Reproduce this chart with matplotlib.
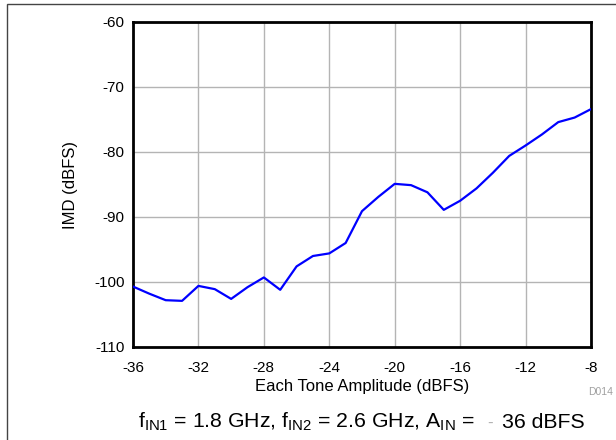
import matplotlib
matplotlib.use("Agg")
from matplotlib import pyplot as plt
from matplotlib.patches import Rectangle

plt.rcParams["font.family"] = ["Liberation Sans", "DejaVu Sans"]

# IMD vs. tone amplitude, 1 dB steps
amplitude = [-36, -35, -34, -33, -32, -31, -30, -29, -28, -27, -26, -25, -24, -23, -22,
             -21, -20, -19, -18, -17, -16, -15, -14, -13, -12, -11, -10, -9, -8]
imd = [-100.7, -101.8, -102.8, -102.9, -100.6, -101.1, -102.6, -100.8, -99.3, -101.2,
       -97.6, -96.0, -95.6, -94.0, -89.1, -86.9, -84.9, -85.1, -86.2, -88.9, -87.5,
       -85.6, -83.2, -80.6, -79.0, -77.3, -75.4, -74.7, -73.4]

xticks = [-36, -32, -28, -24, -20, -16, -12, -8]
yticks = [-110, -100, -90, -80, -70, -60]

W, H = 616, 440
fig = plt.figure(figsize=(W / 100, H / 100), dpi=100)
ax = fig.add_axes([133 / W, 1 - 347 / H, (591 - 133) / W, (347 - 22) / H])

ax.plot(amplitude, imd, color="#0000ff", lw=1.6, zorder=3)

ax.set_xlim(-36, -8)
ax.set_ylim(-110, -60)
ax.set_xticks(xticks)
ax.set_yticks(yticks)
ax.set_xticklabels([str(t) for t in xticks])
ax.set_yticklabels([str(t) for t in yticks])
ax.tick_params(length=0, labelsize=11)
ax.tick_params(axis="x", pad=10)
ax.tick_params(axis="y", pad=6)
ax.grid(True, color="#b4b4b4", lw=1.0)
for s in ax.spines.values():
    s.set_linewidth(2.0)
    s.set_color("black")

ax.set_xlabel("Each Tone Amplitude (dBFS)", fontsize=12, labelpad=3)
ax.set_ylabel("IMD (dBFS)", fontsize=12, labelpad=12)

# small figure id
fig.text(613 / W, 1 - 392 / H, "D014", fontsize=7.5, color="#a0a0a0",
         ha="right", va="center")

# caption: text, grey dash, value
cap_y = 1 - 428 / H
fs = 15.3
t1 = fig.text(138 / W, cap_y,
              r"$\mathregular{f_{IN1}}$ = 1.8 GHz, $\mathregular{f_{IN2}}$ = 2.6 GHz, "
              r"$\mathregular{A_{IN}}$ =",
              fontsize=fs, ha="left", va="baseline")
fig.canvas.draw()
x_end = t1.get_window_extent().x1
t2 = fig.text((x_end + 13) / W, cap_y, "-", fontsize=fs * 0.8, color="#b0b0b0",
              ha="left", va="baseline")
fig.canvas.draw()
x_end = t2.get_window_extent().x1
fig.text((x_end + 9) / W, cap_y, "36 dBFS", fontsize=fs, ha="left", va="baseline")

# outer frame
fig.patches.append(Rectangle((7 / W, -0.05), 1.1, 1 - 4.5 / H + 0.05,
                             transform=fig.transFigure, fill=False,
                             edgecolor="#444444", lw=1.0))

fig.savefig("out.png", dpi=100)
